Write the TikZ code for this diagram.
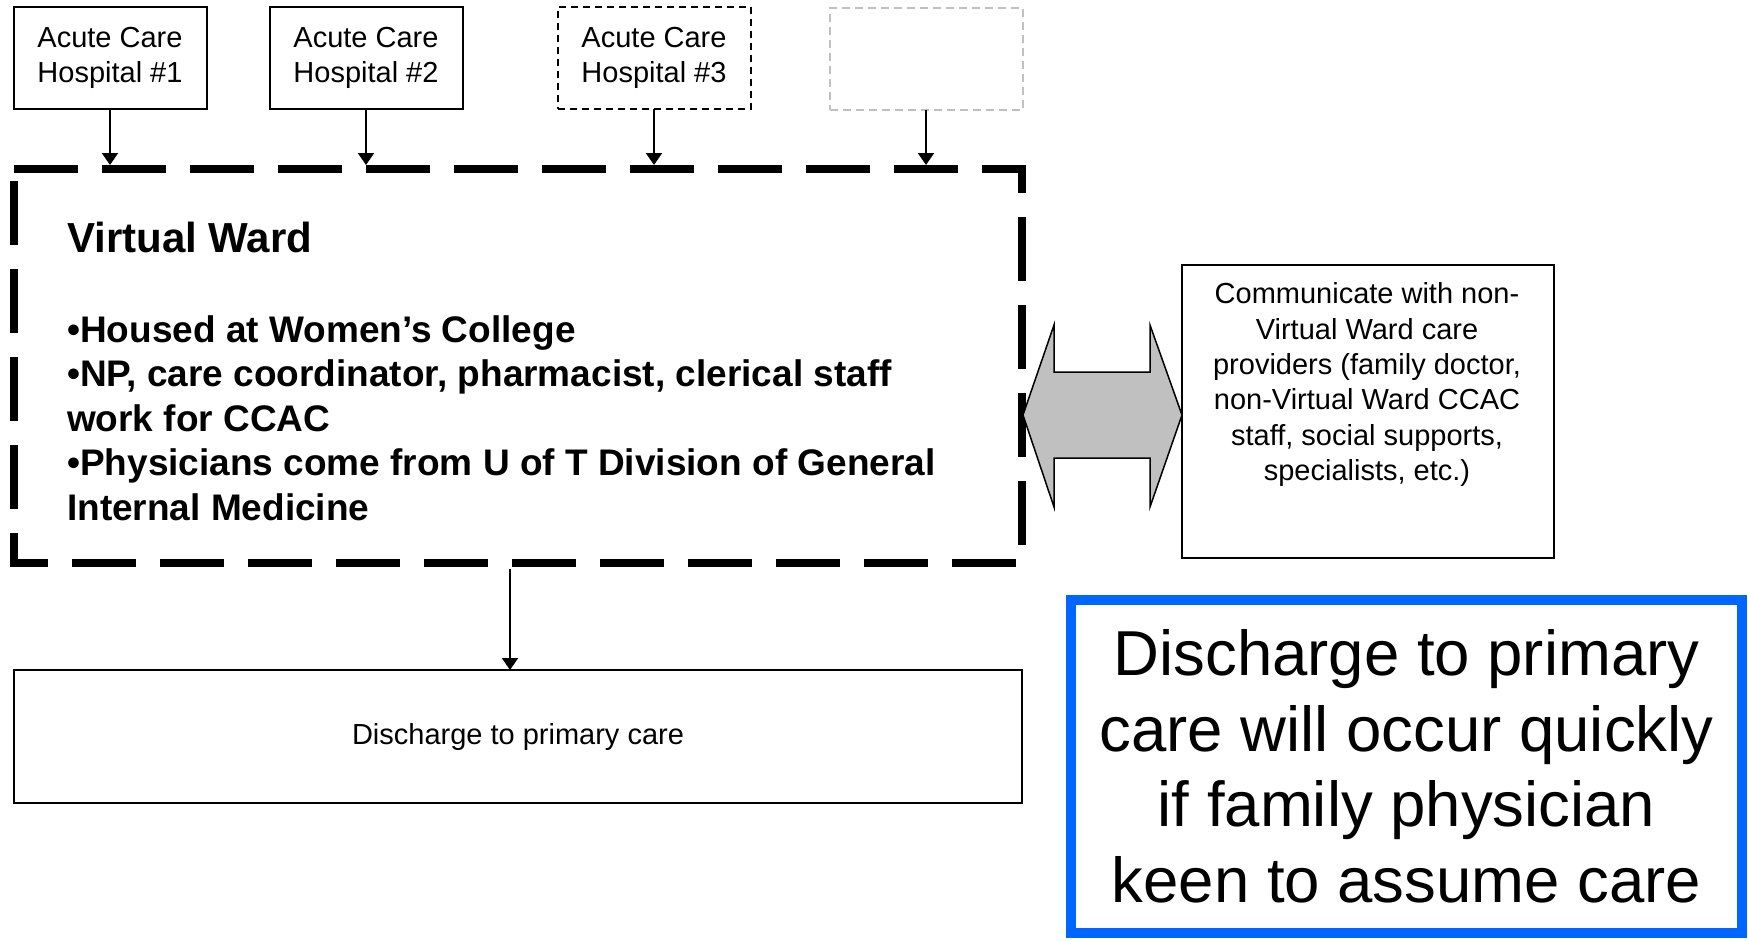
\documentclass[tikz,border=0pt]{standalone}
\usepackage{fontspec}
\setmainfont{Liberation Sans}
\usetikzlibrary{arrows.meta}
\definecolor{boxblue}{RGB}{0,102,255}
\definecolor{ghost}{RGB}{192,192,192}
\definecolor{arrowfill}{RGB}{192,192,192}
\begin{document}
\begin{tikzpicture}[x=1pt,y=-1pt,
  box/.style={draw=black, line width=2pt, inner sep=0pt, outer sep=0pt, align=center,
    font=\fontsize{29}{35.4}\selectfont},
  hosp/.style={box, minimum width=193pt, minimum height=102pt},
  conn/.style={line width=2pt, -{Triangle[length=12pt,width=16pt]}},
  vwtitle/.style={anchor=base west, inner sep=0pt, font=\fontsize{42}{50}\selectfont\bfseries},
  vwbody/.style={anchor=north west, inner sep=0pt, align=left, font=\fontsize{37}{44.5}\selectfont\bfseries},
]
\useasboundingbox (0,0) rectangle (1748,940);

% hospitals
\node[hosp] (h1) at (110,58) {Acute Care\\Hospital \#1};
\node[hosp] (h2) at (366,58) {Acute Care\\Hospital \#2};
\node[hosp, dash pattern=on 7pt off 5pt] (h3) at (654,58) {Acute Care\\Hospital \#3};
\node[hosp, draw=ghost, dash pattern=on 8pt off 5pt] (h4) at (926,59) {};

% virtual ward
\node[minimum width=1008pt, minimum height=394pt, inner sep=0pt, outer sep=0pt] (vw) at (518,366) {};
\draw[line width=8pt, dash pattern=on 64pt off 24pt, line join=miter]
  (vw.north west) -- (vw.north east) -- (vw.south east) -- (vw.south west) -- cycle;
\node[vwtitle] (vwt) at (67,252) {Virtual Ward};
\node[vwbody] (vwb) at (67,315) {•Housed at Women’s College\\
•NP, care coordinator, pharmacist, clerical staff\\
work for CCAC\\
•Physicians come from U of T Division of General\\
Internal Medicine};

\foreach \h in {h1,h2,h3,h4}
  \draw[conn, shorten >=4pt] (\h.south) -- (\h.south |- vw.north);

% communicate box
\node[box, minimum width=372pt, minimum height=293pt] (comm) at (1368,411.5) {};
\node[anchor=north, inner sep=0pt, align=center, font=\fontsize{29}{35.4}\selectfont] (commt)
  at (1367,282.5) {Communicate with non-\\Virtual Ward care\\providers (family doctor,\\non-Virtual Ward CCAC\\staff, social supports,\\specialists, etc.)};

% double arrow
\draw[fill=arrowfill, line width=1.5pt, line join=miter]
  (1023,415) -- (1054,325) -- (1054,372) -- (1150,372) -- (1150,325) -- (1182,415)
  -- (1150,507) -- (1150,458) -- (1054,458) -- (1054,507) -- cycle;

% discharge
\node[box, minimum width=1008pt, minimum height=133pt] (dis) at (518,736.5) {Discharge to primary care};
\draw[conn, shorten <=6pt] ([xshift=-8pt]vw.south) -- ([xshift=-8pt]vw.south |- dis.north);

% blue note
\node[draw=boxblue, line width=10pt, minimum width=671pt, minimum height=333pt, inner sep=0pt,
  align=center, font=\fontsize{63.5}{75.5}\selectfont] (blue) at (1406.5,766.5)
  {Discharge to primary\\care will occur quickly\\if family physician\\keen to assume care};
\end{tikzpicture}
\end{document}
